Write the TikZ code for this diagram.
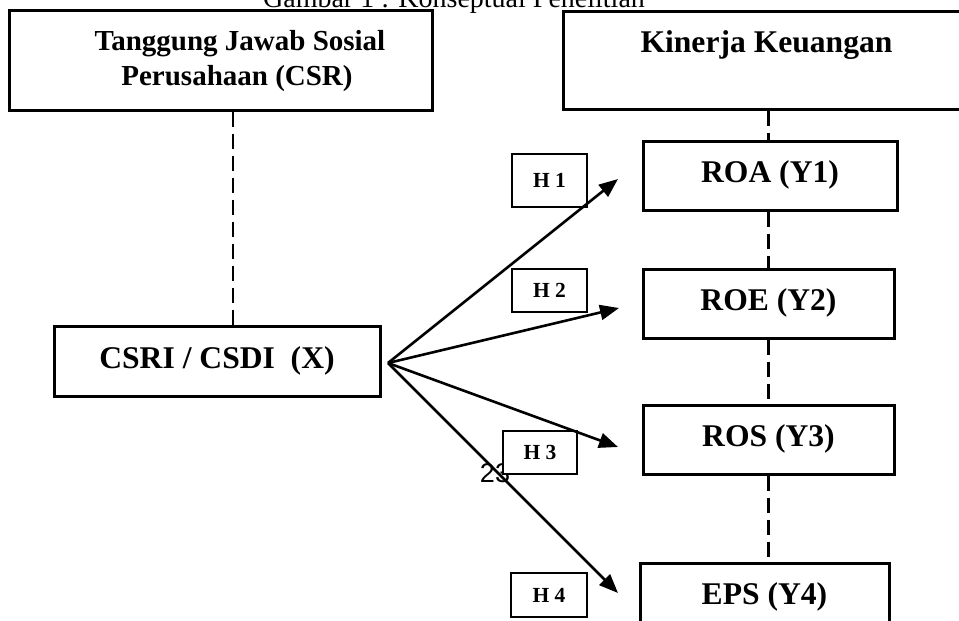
\documentclass[tikz,border=0pt]{standalone}
\usepackage{fontspec}
\setmainfont{Liberation Serif}
\newfontfamily\arialfont{Liberation Sans}
\usetikzlibrary{arrows.meta}
\begin{document}
\begin{tikzpicture}[x=1pt,y=-1pt,
  bigbox/.style={draw,line width=3pt,fill=white,inner sep=0pt},
  ybox/.style={bigbox,font=\fontsize{31.6}{36}\selectfont\bfseries,text height=21pt,text depth=7pt},
  toptext/.style={anchor=base,inner sep=0pt,font=\bfseries},
  hbox/.style={draw,line width=2.6pt,fill=white,inner sep=0pt,font=\fontsize{21.5}{25}\selectfont\bfseries},
  dashline/.style={line width=2.4pt,dash pattern=on 15pt off 7pt},
  hyp/.style={line width=2.6pt,-{Triangle[length=19pt,width=15pt]}}]
\useasboundingbox (0,0) rectangle (959,621);

% title (partly cut at the top, as in the reference)
\node[anchor=base,inner sep=0pt,font=\fontsize{28}{32}\selectfont] (title) at (454,7) {Gambar 1 : Konseptual Penelitian};

% top boxes
\node[bigbox,minimum width=423pt,minimum height=100pt] (csr) at (220.5,60) {};
\node[toptext,font=\fontsize{29}{35}\selectfont\bfseries] (csrt1) at (240,50) {Tanggung Jawab Sosial};
\node[toptext,font=\fontsize{29}{35}\selectfont\bfseries] (csrt2) at (237,85) {Perusahaan (CSR)};
\node[bigbox,minimum width=407pt,minimum height=98pt] (kin) at (766.5,60) {};
\node[toptext,font=\fontsize{31.6}{36}\selectfont\bfseries] (kint) at (766.5,52) {Kinerja Keuangan};

% independent variable
\node[ybox,minimum width=326pt,minimum height=70pt] (x) at (217,361) {CSRI / CSDI\ \ (X)};

% dependent variables
\node[ybox,minimum width=254pt,minimum height=69pt] (roa) at (770,175.5) {ROA (Y1)};
\node[ybox,minimum width=251pt,minimum height=69pt] (roe) at (768.5,303.5) {ROE (Y2)};
\node[ybox,minimum width=251pt,minimum height=69pt] (ros) at (768.5,439.5) {ROS (Y3)};
\node[ybox,minimum width=249pt,minimum height=69pt] (eps) at (764.5,597.5) {EPS (Y4)};

% dashed links
\draw[dashline] ([xshift=16pt]x.north |- csr.south) -- ([xshift=16pt]x.north);
\draw[dashline] (roe.north |- kin.south) -- (roe.north |- roa.north);
\draw[dashline] (roe.north |- roa.south) -- (roe.north);
\draw[dashline] (roe.south) -- (roe.south |- ros.north);
\draw[dashline] (roe.south |- ros.south) -- (roe.south |- eps.north);

% page number behind H3
\node[anchor=base,inner sep=0pt,font=\arialfont\fontsize{27}{32}\selectfont] (pg) at (495,482) {23};

% hypothesis labels
\node[hbox,minimum width=75pt,minimum height=53pt] (h1) at (549.5,180.5) {H 1};
\node[hbox,minimum width=75pt,minimum height=43pt] (h2) at (549.5,290.5) {H 2};
\node[hbox,minimum width=74pt,minimum height=43pt] (h3) at (540,452.5) {H 3};
\node[hbox,minimum width=76pt,minimum height=44pt] (h4) at (549,595) {H 4};

% arrows
\coordinate (src) at (388,363);
\coordinate (t1) at (618,179);
\coordinate (t2) at (619,308);
\coordinate (t3) at (618,447);
\coordinate (t4) at (618,593);
\draw[hyp] (src) -- (t1);
\draw[hyp] (src) -- (t2);
\draw[hyp] (src) -- (t3);
\draw[hyp] (src) -- (t4);
\end{tikzpicture}
\end{document}
